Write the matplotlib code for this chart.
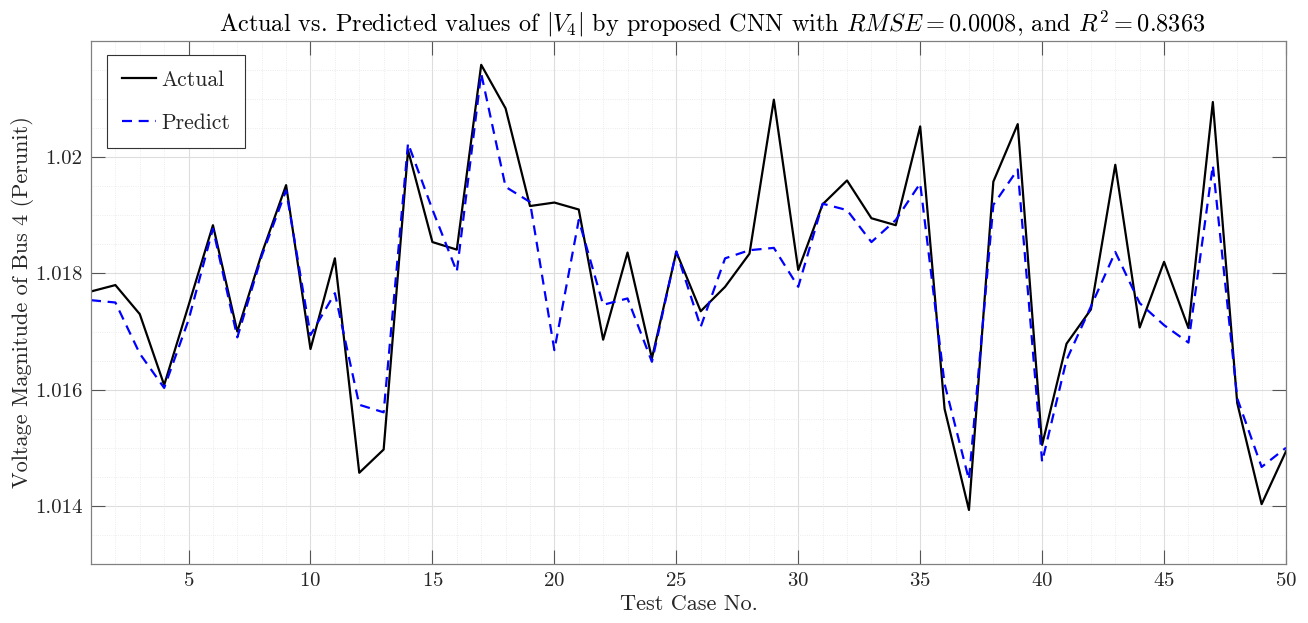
import numpy as np
import matplotlib
matplotlib.use("Agg")
import matplotlib.pyplot as plt
from matplotlib.ticker import MultipleLocator, FuncFormatter

test_case = list(range(1, 51))
actual = [1.01769, 1.01780, 1.01730, 1.01608, 1.01745, 1.01883, 1.01700, 1.01834, 1.01952, 1.01670,
          1.01826, 1.01457, 1.01497, 1.02012, 1.01854, 1.01841, 1.02159, 1.02084, 1.01916, 1.01922,
          1.01910, 1.01686, 1.01836, 1.01654, 1.01837, 1.01735, 1.01777, 1.01834, 1.02099, 1.01806,
          1.01919, 1.01960, 1.01895, 1.01883, 1.02053, 1.01567, 1.01393, 1.01958, 1.02057, 1.01505,
          1.01679, 1.01738, 1.01987, 1.01707, 1.01820, 1.01706, 1.02095, 1.01577, 1.01403, 1.01494]
predict = [1.01754, 1.01750, 1.01662, 1.01603, 1.01720, 1.01877, 1.01690, 1.01830, 1.01943, 1.01694,
           1.01766, 1.01574, 1.01561, 1.02024, 1.01910, 1.01803, 1.02144, 1.01949, 1.01923, 1.01668,
           1.01892, 1.01746, 1.01757, 1.01648, 1.01838, 1.01708, 1.01826, 1.01840, 1.01844, 1.01777,
           1.01920, 1.01909, 1.01854, 1.01892, 1.01955, 1.01610, 1.01445, 1.01918, 1.01979, 1.01476,
           1.01651, 1.01743, 1.01837, 1.01749, 1.01711, 1.01681, 1.01986, 1.01585, 1.01467, 1.01500]

plt.rcParams['font.family'] = ['cmr10', 'DejaVu Serif']
plt.rcParams['mathtext.fontset'] = 'cm'
plt.rcParams['axes.formatter.use_mathtext'] = True

txtc = '#262626'
fig = plt.figure(figsize=(13.08, 6.23), dpi=100)
ax = fig.add_axes([91/1308, 1 - 564/623, (1286-91)/1308, (564-41)/623])

ax.plot(test_case, actual, color='black', lw=1.6, label='Actual')
ax.plot(test_case, predict, color='#0000ff', lw=1.6, ls=(0, (4.5, 3)), label='Predict')

ax.set_xlim(1, 50)
ax.set_ylim(1.013, 1.022)
ax.set_xticks([5, 10, 15, 20, 25, 30, 35, 40, 45, 50])
ax.set_yticks([1.014, 1.016, 1.018, 1.020])
ax.yaxis.set_major_formatter(FuncFormatter(lambda v, p: ('%.3f' % v).rstrip('0')))
ax.xaxis.set_minor_locator(MultipleLocator(1))
ax.yaxis.set_minor_locator(MultipleLocator(0.0005))

ax.grid(which='major', color='#dddddd', lw=0.8, ls='-')
ax.grid(which='minor', color='#e6e6e6', lw=0.6, ls=':')
ax.set_axisbelow(True)
ax.tick_params(which='major', direction='in', length=10, width=0.8, color='#555555',
               top=True, right=True, labelsize=15, pad=6, labelcolor=txtc)
ax.tick_params(which='minor', length=0, top=True, right=True)
for s in ax.spines.values():
    s.set_color('#808080')
    s.set_linewidth(0.9)

ax.set_xlabel('Test Case No.', fontsize=16, labelpad=3, color=txtc)
ax.set_ylabel('Voltage Magnitude of Bus 4 (Perunit)', fontsize=16, labelpad=1, color=txtc)
ax.set_title(r'Actual vs. Predicted values of $|V_4|$ by proposed CNN with $RMSE = 0.0008$, and $R^2 = 0.8363$',
             fontsize=17.5, pad=7, color='black', x=0.52)

leg = ax.legend(loc='upper left', bbox_to_anchor=(0.013, 0.973), fontsize=15.5, fancybox=False,
                framealpha=1, edgecolor='#333333', labelspacing=1.1, handlelength=1.6,
                borderpad=0.7, handletextpad=0.25, borderaxespad=0)
leg.get_frame().set_linewidth(0.8)
for t in leg.get_texts():
    t.set_color(txtc)

fig.savefig('out.png', dpi=100)
